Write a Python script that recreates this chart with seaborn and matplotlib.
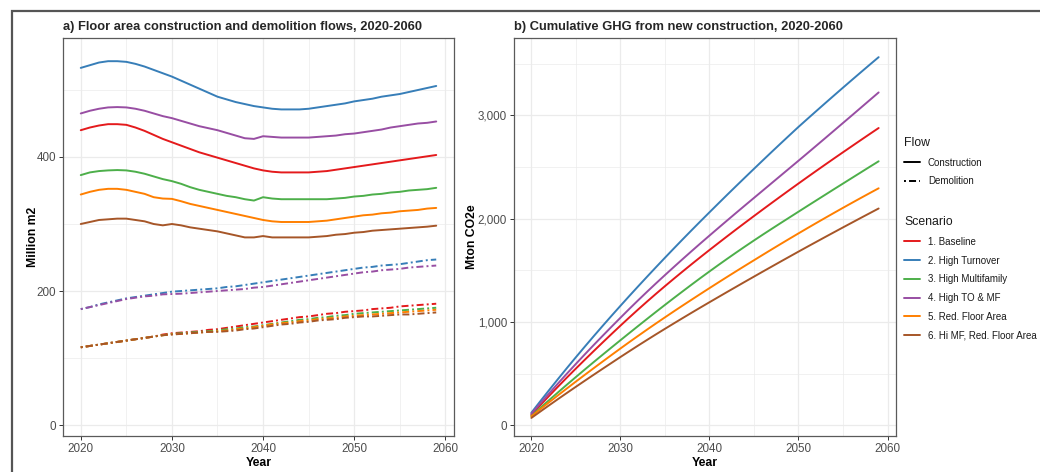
import numpy as np
import pandas as pd
import matplotlib
matplotlib.use("Agg")
import matplotlib.pyplot as plt
from matplotlib.lines import Line2D
from matplotlib.patches import Rectangle
from matplotlib.ticker import MultipleLocator, StrMethodFormatter
import seaborn as sns

# ---------------------------------------------------------------- data
years = list(range(2020, 2060))

scenarios = ["1. Baseline", "2. High Turnover", "3. High Multifamily",
             "4. High TO & MF", "5. Red. Floor Area", "6. Hi MF, Red. Floor Area"]
flows = ["Construction", "Demolition"]

# Floor area constructed per year (million m2)
construction_baseline = [440, 444, 447, 449, 449, 448, 444, 439, 433, 427,
                         422, 417, 412, 407, 403, 399, 395, 391, 387, 383,
                         380, 378, 377, 377, 377, 377, 378, 379, 381, 383,
                         385, 387, 389, 391, 393, 395, 397, 399, 401, 403]
construction_high_to = [533, 537, 541, 543, 543, 542, 539, 535, 530, 525,
                        520, 514, 508, 502, 496, 490, 486, 482, 479, 476,
                        474, 472, 471, 471, 471, 472, 474, 476, 478, 480,
                        483, 485, 487, 490, 492, 494, 497, 500, 503, 506]
construction_high_mf = [373, 377, 379, 380, 380.5, 380, 378, 375, 371, 367,
                        364, 360, 355, 351, 348, 345, 342, 340, 337, 335,
                        340, 338, 337, 337, 337, 337, 337, 337, 338, 339,
                        341, 342, 344, 345, 347, 348, 350, 351, 352, 354]
construction_high_to_mf = [465, 469, 472, 474, 474.5, 474, 472, 469, 465, 461,
                           458, 454, 450, 446, 443, 440, 436, 432, 428, 427,
                           431, 430, 429, 429, 429, 429, 430, 431, 432, 434,
                           435, 437, 439, 441, 444, 446, 448, 450, 451, 453]
construction_red_fa = [344, 348, 351, 352.5, 352.5, 351, 348, 345, 340, 338,
                       337.5, 334, 330, 327, 324, 321, 318, 315, 312, 309,
                       306, 304, 303, 303, 303, 303, 304, 305, 307, 309,
                       311, 313, 314, 316, 317, 319, 320, 321, 323, 324]
construction_mf_red_fa = [300, 303, 306, 307, 308, 308, 306, 304, 300, 298,
                          300, 298, 295, 293, 291, 289, 286, 283, 280, 280,
                          282, 280, 280, 280, 280, 280, 281, 282, 284, 285,
                          287, 288, 290, 291, 292, 293, 294, 295, 296, 297.5]

# Floor area demolished per year (million m2)
demolition_baseline = [116, 118, 120, 122, 124, 126, 128, 130, 132, 135,
                       137, 138, 139, 140, 142, 143, 145, 147, 149, 151,
                       153, 155, 157, 159, 161, 162, 164, 166, 167, 169,
                       170, 171, 173, 174, 175, 177, 178, 179, 180, 181]
demolition_high_to = [173, 176, 180, 183, 186, 189, 191, 193, 195, 197,
                      199, 200, 201, 202, 203, 204, 206, 207, 209, 211,
                      213, 215, 217, 219, 221, 223, 225, 227, 229, 231,
                      233, 235, 236, 238, 239, 240, 242, 244, 246, 247]
demolition_high_mf = [116, 118, 120, 122, 124, 126, 128, 130, 132, 134,
                      136, 137, 138, 139, 140, 141, 143, 144, 146, 147,
                      149, 151, 153, 155, 157, 158, 160, 161, 163, 164,
                      166, 167, 168, 169, 170, 171, 172, 173, 174, 175]
demolition_high_to_mf = [173, 176, 179, 182, 185, 188, 190, 192, 193, 195,
                         195.5, 196, 197, 198, 199, 200, 201, 202, 203, 205,
                         206, 208, 210, 212, 214, 216, 218, 220, 222, 224,
                         226, 228, 229, 231, 232, 233, 235, 236, 237, 238]
demolition_red_fa = [116, 118, 120, 122, 124, 126, 128, 130, 132, 134,
                     135.5, 136, 137, 138, 139, 140, 141, 143, 144, 146,
                     148, 150, 152, 153, 155, 156, 158, 159, 160, 162,
                     163, 164, 165, 166, 167, 168, 169, 170, 171, 172]
demolition_mf_red_fa = [116, 118, 120, 122, 124, 126, 128, 130, 132, 134,
                        135, 136, 137, 138, 139, 139, 140, 141, 143, 144,
                        146, 148, 150, 151, 153, 154, 156, 157, 158, 160,
                        161, 162, 162, 163, 164, 165, 165, 166, 167, 168]

# Cumulative embodied GHG of new construction (Mton CO2e)
ghg_baseline = [100, 193, 284, 373.5, 461.5, 548, 633, 717, 800, 882,
                963, 1042.5, 1120.5, 1197, 1272, 1345.5, 1417.5, 1488.5, 1558.5, 1627.5,
                1695.5, 1762.5, 1829, 1895, 1960, 2024.5, 2088.5, 2152, 2215, 2277.5,
                2339.5, 2401, 2462, 2522.5, 2582.5, 2642, 2701, 2760, 2818.5, 2876.5]
ghg_high_to = [120, 231, 340, 447.5, 553.5, 657.5, 760, 861, 960.5, 1058.5,
               1155, 1250.5, 1344.5, 1437.5, 1529.5, 1620.5, 1710.5, 1799.5, 1887.5, 1974.5,
               2060.5, 2146, 2231, 2315, 2398.5, 2481.5, 2564, 2646, 2727, 2807.5,
               2887.5, 2964.5, 3041, 3117, 3192.5, 3267.5, 3342, 3416, 3489.5, 3562.5]
ghg_high_mf = [90, 167, 243, 318, 392.5, 466, 538.5, 610.5, 681.5, 752,
               822, 891.5, 960.5, 1029, 1097, 1164, 1230.5, 1296, 1361, 1425,
               1488, 1550, 1611, 1671, 1730, 1788, 1845, 1901, 1956.5, 2011.5,
               2066.5, 2121.5, 2176, 2230.5, 2285, 2339, 2393, 2447, 2501, 2554.5]
ghg_high_to_mf = [110, 210, 308, 404.5, 499.5, 593, 685, 775.5, 864.5, 952.5,
                  1039.5, 1125.5, 1209.5, 1292, 1373, 1452.5, 1531, 1608.5, 1685, 1760.5,
                  1835, 1909, 1982.5, 2055.5, 2128, 2200, 2272, 2344, 2416, 2488,
                  2560, 2632.5, 2705.5, 2778.5, 2852, 2925.5, 2999, 3073, 3147, 3221]
ghg_red_fa = [85, 154, 222, 289.5, 356, 422, 487, 551.5, 615.5, 679,
              742, 804, 865, 925.5, 985, 1043.5, 1101.5, 1158.5, 1215, 1271,
              1326.5, 1381.5, 1436, 1490, 1543.5, 1596.5, 1649.5, 1702, 1754, 1805.5,
              1856.5, 1907, 1957, 2006.5, 2055.5, 2104, 2152, 2199.5, 2246.5, 2293]
ghg_mf_red_fa = [70, 131.5, 192.5, 253, 312.5, 371.5, 430, 488, 545.5, 602.5,
                 659.5, 715.5, 771, 825.5, 879.5, 932.5, 985, 1037, 1088.5, 1139.5,
                 1190, 1240, 1290, 1339.5, 1389, 1438, 1487, 1535.5, 1584, 1632,
                 1680, 1727.5, 1774.5, 1821.5, 1868, 1914.5, 1960.5, 2006.5, 2052, 2097.5]

construction = [construction_baseline, construction_high_to, construction_high_mf,
                construction_high_to_mf, construction_red_fa, construction_mf_red_fa]
demolition = [demolition_baseline, demolition_high_to, demolition_high_mf,
              demolition_high_to_mf, demolition_red_fa, demolition_mf_red_fa]
ghg = [ghg_baseline, ghg_high_to, ghg_high_mf, ghg_high_to_mf, ghg_red_fa, ghg_mf_red_fa]

# ---------------------------------------------------------------- tidy frames
rows = []
for scen, c_vals, d_vals in zip(scenarios, construction, demolition):
    for yr, v in zip(years, c_vals):
        rows.append((yr, scen, "Construction", v))
    for yr, v in zip(years, d_vals):
        rows.append((yr, scen, "Demolition", v))
flows_df = pd.DataFrame(rows, columns=["Year", "Scenario", "Flow", "Value"])

ghg_df = pd.DataFrame(
    [(yr, scen, v) for scen, vals in zip(scenarios, ghg) for yr, v in zip(years, vals)],
    columns=["Year", "Scenario", "GHG"])

# ---------------------------------------------------------------- style
sns.set_theme(style="white")
plt.rcParams["font.family"] = ["Liberation Sans", "DejaVu Sans"]

palette = dict(zip(scenarios, ["#E41A1C", "#377EB8", "#4DAF4A",
                               "#984EA3", "#FF7F00", "#A65628"]))
dash_styles = {"Construction": "", "Demolition": (1.0, 1.6, 3.6, 1.6)}
LW = 1.4
GRID = "#EBEBEB"
TICK_C = "#4D4D4D"
FRAME_C = "#5A5A5A"

fig = plt.figure(figsize=(10.40, 4.72), dpi=100)
ax_a = fig.add_axes([63 / 1040, 36 / 472, 391 / 1040, 398 / 472])
ax_b = fig.add_axes([514 / 1040, 36 / 472, 382 / 1040, 398 / 472])

sns.lineplot(data=flows_df, x="Year", y="Value", hue="Scenario", style="Flow",
             hue_order=scenarios, style_order=flows, palette=palette,
             dashes=dash_styles, estimator=None, errorbar=None, lw=LW,
             legend=False, ax=ax_a)
sns.lineplot(data=ghg_df, x="Year", y="GHG", hue="Scenario", hue_order=scenarios,
             palette=palette, estimator=None, errorbar=None, lw=LW,
             legend=False, ax=ax_b)


def style_axes(ax, ymajor, yminor):
    ax.set_xlim(2018.05, 2060.95)
    ax.xaxis.set_major_locator(MultipleLocator(10))
    ax.xaxis.set_minor_locator(MultipleLocator(5))
    ax.yaxis.set_major_locator(MultipleLocator(ymajor))
    ax.yaxis.set_minor_locator(MultipleLocator(yminor))
    ax.grid(which="major", color=GRID, lw=0.9)
    ax.grid(which="minor", color=GRID, lw=0.5)
    ax.set_axisbelow(True)
    for sp in ax.spines.values():
        sp.set_visible(True)
        sp.set_color(FRAME_C)
        sp.set_linewidth(0.9)
    ax.tick_params(which="major", direction="out", length=3, width=0.7,
                   color="#333333", labelsize=8.4, labelcolor=TICK_C, pad=2,
                   bottom=True, left=True)
    ax.tick_params(which="minor", length=0, bottom=False, left=False)
    ax.set_xlabel("Year", fontsize=8.8, fontweight="bold", color="black", labelpad=1.5)


style_axes(ax_a, 200, 100)
ax_a.set_ylim(-16.4, 577.6)
ax_a.set_ylabel("Million m2", fontsize=8.8, fontweight="bold", color="black", labelpad=-2)
ax_a.set_title("a) Floor area construction and demolition flows, 2020-2060",
               loc="left", fontsize=9.3, fontweight="bold", pad=6)

style_axes(ax_b, 1000, 500)
ax_b.set_ylim(-105, 3748)
ax_b.yaxis.set_major_formatter(StrMethodFormatter("{x:,.0f}"))
ax_b.set_ylabel("Mton CO2e", fontsize=8.8, fontweight="bold", color="black", labelpad=0)
ax_b.set_title("b) Cumulative GHG from new construction, 2020-2060",
               loc="left", fontsize=9.3, fontweight="bold", pad=6)

# ---------------------------------------------------------------- legends
flow_handles = [Line2D([], [], color="black", lw=LW),
                Line2D([], [], color="black", lw=LW, dashes=dash_styles["Demolition"])]
scen_handles = [Line2D([], [], color=palette[s], lw=LW) for s in scenarios]

leg_kw = dict(frameon=False, fontsize=7, title_fontsize=8.8, handlelength=1.65,
              handletextpad=0.8, labelspacing=0.9, alignment="left",
              borderaxespad=0, borderpad=0)
leg1 = fig.legend(flow_handles, flows, title="Flow", loc="upper left",
                  bbox_to_anchor=(904 / 1040, 1 - 137 / 472), **leg_kw)
leg2 = fig.legend(scen_handles, scenarios, title="Scenario", loc="upper left",
                  bbox_to_anchor=(904 / 1040, 1 - 216 / 472), **leg_kw)
for leg in (leg1, leg2):
    leg.get_title().set_color("#1A1A1A")
    for t in leg.get_texts():
        t.set_color("#1A1A1A")

# outer frame around the whole figure panel
fig.add_artist(Rectangle((12 / 1040, -0.2), 1.2, 1 - 11 / 472 + 0.2,
                         transform=fig.transFigure, fill=False,
                         edgecolor="#555555", lw=1.6))

fig.savefig("out.png", dpi=100)
